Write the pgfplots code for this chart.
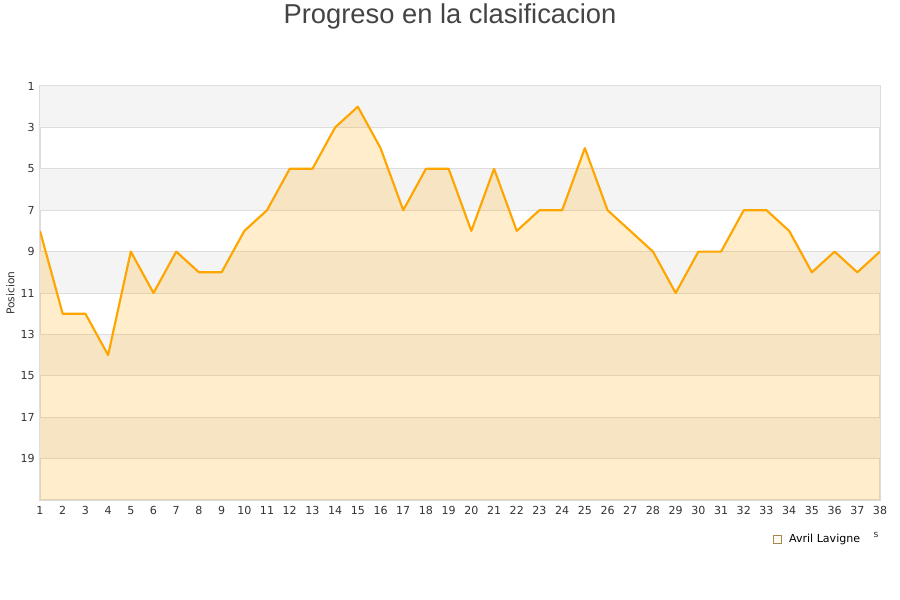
\documentclass[border=0pt]{standalone}
\usepackage{pgfplots}
\pgfplotsset{compat=1.18}
\usepackage{fontspec}
\setmainfont{DejaVu Sans}
\newfontfamily\titlefont{Liberation Sans}
\definecolor{band}{HTML}{F4F4F4}
\definecolor{gridc}{HTML}{DDDDDD}
\definecolor{txt}{HTML}{333333}
\definecolor{ttl}{HTML}{444444}
\definecolor{line}{HTML}{FFA500}
\begin{document}
\begin{tikzpicture}
\path[use as bounding box] (0pt,0pt) rectangle (675pt,450pt);
\begin{axis}[
  at={(30pt,75pt)}, anchor=south west,
  width=630pt, height=310.5pt, scale only axis,
  xmin=1, xmax=38, ymin=1, ymax=21,
  y dir=reverse,
  xtick={1,...,38}, ytick={1,3,...,19},
  tick style={draw=none},
  axis line style={gridc, line width=0.8pt},
  ticklabel style={font=\fontsize{8.3}{10}\selectfont, text=txt},
  /pgf/number format/assume math mode=true,
  yticklabel style={xshift=-0.5pt},
  xticklabel style={yshift=-1pt},
  ylabel={Posicion},
  ylabel style={font=\fontsize{8}{9}\selectfont, text=txt, yshift=-2.3pt},
  legend style={at={(0.926,-0.094)}, anchor=center, draw=none, fill=none,
    font=\fontsize{8.3}{10}\selectfont, text=black},
  legend cell align=left,
]
% alternating bands
\addplot[fill=band, draw=none, forget plot] coordinates {(1,1) (38,1) (38,3) (1,3)} -- cycle;
\addplot[fill=band, draw=none, forget plot] coordinates {(1,5) (38,5) (38,7) (1,7)} -- cycle;
\addplot[fill=band, draw=none, forget plot] coordinates {(1,9) (38,9) (38,11) (1,11)} -- cycle;
\addplot[fill=band, draw=none, forget plot] coordinates {(1,13) (38,13) (38,15) (1,15)} -- cycle;
\addplot[fill=band, draw=none, forget plot] coordinates {(1,17) (38,17) (38,19) (1,19)} -- cycle;
% grid lines
\addplot[gridc, line width=0.6pt, forget plot] coordinates {(1,3) (38,3)};
\addplot[gridc, line width=0.6pt, forget plot] coordinates {(1,5) (38,5)};
\addplot[gridc, line width=0.6pt, forget plot] coordinates {(1,7) (38,7)};
\addplot[gridc, line width=0.6pt, forget plot] coordinates {(1,9) (38,9)};
\addplot[gridc, line width=0.6pt, forget plot] coordinates {(1,11) (38,11)};
\addplot[gridc, line width=0.6pt, forget plot] coordinates {(1,13) (38,13)};
\addplot[gridc, line width=0.6pt, forget plot] coordinates {(1,15) (38,15)};
\addplot[gridc, line width=0.6pt, forget plot] coordinates {(1,17) (38,17)};
\addplot[gridc, line width=0.6pt, forget plot] coordinates {(1,19) (38,19)};
% area
\addplot[fill=line, fill opacity=0.2, draw=none, area legend,
  legend image code/.code={\path (0pt,0pt) -- (10pt,0pt);
    \draw[fill=line!25, draw=line!50!black!70, line width=0.4pt] (0pt,-3pt) rectangle (6pt,3pt);}]
  coordinates {
(1,8) (2,12) (3,12) (4,14) (5,9) (6,11) (7,9) (8,10) (9,10) (10,8)
(11,7) (12,5) (13,5) (14,3) (15,2) (16,4) (17,7) (18,5) (19,5) (20,8)
(21,5) (22,8) (23,7) (24,7) (25,4) (26,7) (27,8) (28,9) (29,11) (30,9)
(31,9) (32,7) (33,7) (34,8) (35,10) (36,9) (37,10) (38,9) (38,21) (1,21)
} -- cycle;
\addlegendentry{Avril Lavigne}
\addplot[line, line width=1.6pt, line join=round, forget plot] coordinates {
(1,8) (2,12) (3,12) (4,14) (5,9) (6,11) (7,9) (8,10) (9,10) (10,8)
(11,7) (12,5) (13,5) (14,3) (15,2) (16,4) (17,7) (18,5) (19,5) (20,8)
(21,5) (22,8) (23,7) (24,7) (25,4) (26,7) (27,8) (28,9) (29,11) (30,9)
(31,9) (32,7) (33,7) (34,8) (35,10) (36,9) (37,10) (38,9)
};
\end{axis}
\node[font=\titlefont\fontsize{20.5}{24}\selectfont, text=ttl] at (337.5pt,437.5pt) {Progreso en la clasificacion};
\node[font=\fontsize{7}{8}\selectfont, text=txt] at (657pt,48.5pt) {s};
\end{tikzpicture}
\end{document}
